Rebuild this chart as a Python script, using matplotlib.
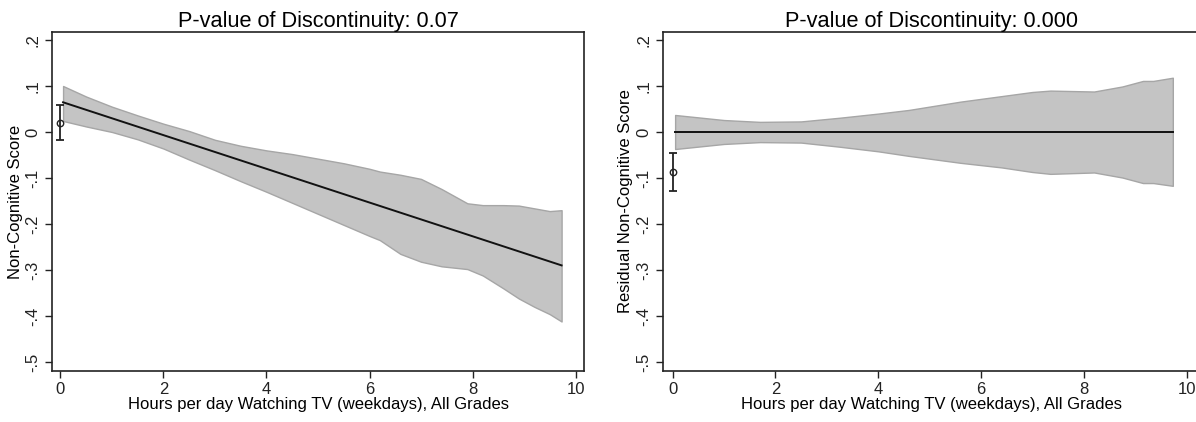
import matplotlib
matplotlib.use("Agg")
import matplotlib.pyplot as plt
import numpy as np

plt.rcParams['font.family'] = ['Liberation Sans', 'DejaVu Sans']

# Left panel: Non-Cognitive Score
left_x = [0.05, 0.5, 1.0, 1.5, 2.0, 2.5, 3.0, 3.5, 4.0, 4.5, 5.0, 5.5, 6.0, 6.2,
          6.6, 7.0, 7.4, 7.9, 8.2, 8.6, 8.9, 9.2, 9.5, 9.73]
left_fit_ends = [0.0646, -0.2900]
left_hi = [0.100, 0.077, 0.055, 0.036, 0.018, 0.002, -0.017, -0.030, -0.040, -0.048, -0.058, -0.068, -0.080, -0.086,
           -0.093, -0.102, -0.124, -0.155, -0.159, -0.159, -0.160, -0.166, -0.172, -0.170]
left_lo = [0.024, 0.012, 0.000, -0.016, -0.036, -0.060, -0.083, -0.107, -0.130, -0.154, -0.178, -0.202, -0.226, -0.235,
           -0.265, -0.282, -0.292, -0.298, -0.312, -0.340, -0.362, -0.380, -0.396, -0.412]
left_pt = 0.020
left_pt_hi = 0.059
left_pt_lo = -0.017
left_title = "P-value of Discontinuity: 0.07"
left_ylabel = "Non-Cognitive Score"

# Right panel: Residual Non-Cognitive Score
right_x = [0.05, 1.0, 1.7, 2.5, 3.25, 4.0, 4.6, 5.6, 6.4, 7.0, 7.35, 8.2, 8.75, 9.15, 9.35, 9.73]
right_fit_ends = [0.0, 0.0]
right_hi = [0.037, 0.026, 0.022, 0.023, 0.031, 0.040, 0.048, 0.066, 0.078, 0.087, 0.090, 0.088, 0.099, 0.111, 0.111, 0.118]
right_lo = [-0.037, -0.026, -0.022, -0.023, -0.032, -0.042, -0.052, -0.067, -0.077, -0.087, -0.091, -0.088, -0.099, -0.111, -0.111, -0.117]
right_pt = -0.088
right_pt_hi = -0.046
right_pt_lo = -0.128
right_title = "P-value of Discontinuity: 0.000"
right_ylabel = "Residual Non-Cognitive Score"

xlabel = "Hours per day Watching TV (weekdays), All Grades"
xticks = [0, 2, 4, 6, 8, 10]
yticks = [-0.5, -0.4, -0.3, -0.2, -0.1, 0.0, 0.1, 0.2]
ytick_labels = ["-.5", "-.4", "-.3", "-.2", "-.1", "0", ".1", ".2"]

W, H = 1196, 422
fig = plt.figure(figsize=(W / 100, H / 100), dpi=100)
ax1_px = (52, 584)
ax2_px = (663.3, 1199)
ax1 = fig.add_axes([ax1_px[0] / W, 51 / H, (ax1_px[1] - ax1_px[0]) / W, 339 / H])
ax2 = fig.add_axes([ax2_px[0] / W, 51 / H, (ax2_px[1] - ax2_px[0]) / W, 339 / H])

panels = [
    (ax1, ax1_px, 23, left_x, left_fit_ends, left_hi, left_lo, left_pt, left_pt_hi, left_pt_lo, left_title, left_ylabel, (-0.165, 10.165)),
    (ax2, ax2_px, 633, right_x, right_fit_ends, right_hi, right_lo, right_pt, right_pt_hi, right_pt_lo, right_title, right_ylabel, (-0.18, (1199 - 672.7) / 51.4)),
]

for ax, px, ylab_px, x, fit_ends, hi, lo, pt, pthi, ptlo, title, ylabel, xlim in panels:
    ax.fill_between(x, lo, hi, facecolor="#c4c4c4", edgecolor="#a6a6a6", linewidth=1.0, zorder=1)
    ax.plot([x[0], x[-1]], fit_ends, color="#111111", linewidth=1.4, zorder=2)
    ax.errorbar([0], [pt], yerr=[[pt - ptlo], [pthi - pt]], fmt="o", markersize=4.6,
                markerfacecolor="none", markeredgecolor="#222222", ecolor="#222222",
                elinewidth=1.3, capsize=3, capthick=1.3, zorder=3)
    ax.set_xlim(*xlim)
    ax.set_ylim(-0.5196, 0.2174)
    ax.set_xticks(xticks)
    ax.set_yticks(yticks)
    ax.set_yticklabels(ytick_labels, rotation=90, va="center")
    ax.tick_params(axis="both", direction="out", length=5, width=1, labelsize=12, colors="#222222")
    ax.tick_params(axis="x", pad=3)
    ax.tick_params(axis="y", pad=3.5)
    ax.set_title(title, fontsize=15.7, pad=3)
    ax.set_xlabel(xlabel, fontsize=12, labelpad=0)
    ax.set_ylabel(ylabel, fontsize=12)
    ax.yaxis.set_label_coords((ylab_px - px[0]) / (px[1] - px[0]), 0.5)
    for s in ax.spines.values():
        s.set_linewidth(1.2)
        s.set_color("#222222")

fig.savefig("out.png", dpi=100, facecolor="white")
